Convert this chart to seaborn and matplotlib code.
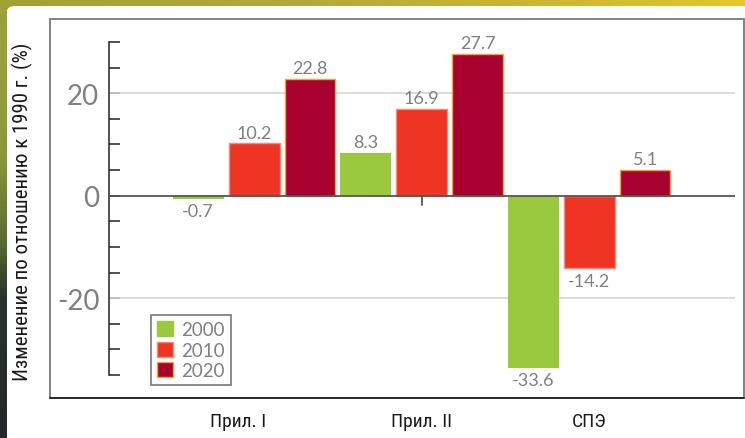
import numpy as np
import pandas as pd
import matplotlib
matplotlib.use("Agg")
import matplotlib.pyplot as plt
from matplotlib.patches import Patch, Rectangle, FancyBboxPatch
from matplotlib.transforms import ScaledTranslation
import seaborn as sns

# ---- data -------------------------------------------------------------
categories = ["Прил. I", "Прил. II", "СПЭ"]
years = ["2000", "2010", "2020"]
values_2000 = [-0.7, 8.3, -33.6]
values_2010 = [10.2, 16.9, -14.2]
values_2020 = [22.8, 27.7, 5.1]
y_label = "Изменение по отношению к 1990 г. (%)"

colors = {"2000": "#9BC93D", "2010": "#EE3524", "2020": "#A8002F"}
edges = {"2000": "none", "2010": "#F48A78", "2020": "#F2A23A"}

df = pd.DataFrame({
    "region": categories * 3,
    "year": [y for y in years for _ in categories],
    "value": values_2000 + values_2010 + values_2020,
})

sns.set_theme(style="white")
plt.rcParams["font.family"] = ["Lato", "DejaVu Sans"]
plt.rcParams["axes.unicode_minus"] = False
narrow = ["Roboto Condensed", "Roboto", "DejaVu Sans"]

W, H = 745, 439
fig = plt.figure(figsize=(W / 100, H / 100), dpi=100)

# ---- photographic border behind the white panel -----------------------
bg_ax = fig.add_axes([0, 0, 1, 1], zorder=-10)
yy = np.linspace(0, 1, H)
xx = np.linspace(0, 1, W)
left_stops = [0.0, 0.35, 0.55, 0.68, 1.0]
left_cols = np.array([[0.62, 0.64, 0.22], [0.55, 0.60, 0.22], [0.36, 0.42, 0.20],
                      [0.16, 0.20, 0.18], [0.14, 0.16, 0.16]])
top_stops = [0.0, 0.4, 0.75, 1.0]
top_cols = np.array([[0.62, 0.64, 0.20], [0.70, 0.66, 0.24], [0.80, 0.72, 0.20], [0.90, 0.78, 0.16]])
img = np.zeros((H, W, 3))
for c in range(3):
    img[:, :, c] = np.interp(yy, left_stops, left_cols[:, c])[:, None]
top_band = np.stack([np.interp(xx, top_stops, top_cols[:, c]) for c in range(3)], axis=-1)
img[:14, :, :] = top_band[None, :, :]
bg_ax.imshow(img, aspect="auto", extent=[0, 1, 0, 1], origin="upper")
bg_ax.axis("off")

panel = FancyBboxPatch((7 / W, -0.1), 1.2, (H - 7) / H + 0.1,
                       boxstyle="round,pad=0,rounding_size=0.012",
                       transform=fig.transFigure, facecolor="white",
                       edgecolor="none", zorder=-5)
fig.patches.append(panel)

frame = Rectangle((50 / W, (H - 399) / H), (744 - 50) / W, (399 - 20) / H,
                  transform=fig.transFigure, facecolor="none",
                  edgecolor="#7a7a7a", lw=1.3, zorder=-4)
fig.patches.append(frame)
fig.add_artist(plt.Line2D([50 / W, 744 / W], [(H - 399) / H] * 2,
                          transform=fig.transFigure, color="#222222", lw=1.3))

# ---- bar chart --------------------------------------------------------
ax = fig.add_axes([109 / W, (H - 376) / H, (735 - 109) / W, (376 - 43) / H])
ax.patch.set_alpha(0)

sns.barplot(data=df, x="region", y="value", hue="year", hue_order=years,
            order=categories, palette=colors, saturation=1, width=1.0,
            gap=0.09, legend=False, ax=ax, zorder=3)

for year, cont in zip(years, ax.containers):
    for bar, val in zip(cont.patches, df.loc[df.year == year, "value"]):
        bar.set_edgecolor(edges[year])
        bar.set_linewidth(1.0 if year != "2000" else 0)
        x = bar.get_x() + bar.get_width() / 2
        if val >= 0:
            ax.annotate(f"{val:.1f}", (x, val), xytext=(0, 2),
                        textcoords="offset points", ha="center", va="bottom",
                        fontsize=13, color="#808080", zorder=5)
        else:
            ax.annotate(f"{val:.1f}", (x, val), xytext=(0, -3),
                        textcoords="offset points", ha="center", va="top",
                        fontsize=13, color="#808080", zorder=5)

ax.set_xlim(-0.866, 2.87)
ax.set_ylim(-35, 30)

ax.axhline(20, color="#d6d6d6", lw=1.2, zorder=1)
ax.axhline(-20, color="#d6d6d6", lw=1.2, zorder=1)
ax.axhline(0, color="#555555", lw=1.3, zorder=4)
ax.plot([1, 1], [0, -1.8], color="#555555", lw=1.3, zorder=4)

ax.set_yticks([-20, 0, 20])
ax.set_yticks(np.arange(-35, 31, 5), minor=True)
ax.tick_params(axis="y", which="both", left=True, direction="in", length=8,
               width=1.1, color="#222222", pad=7)
ax.tick_params(axis="y", which="major", labelsize=20, labelcolor="#808080")
ax.tick_params(axis="x", length=0, pad=27)
ax.set_xticks(range(len(categories)))
ax.set_xticklabels(categories, family=narrow, fontsize=14, color="#1a1a1a")
first = ax.get_xticklabels()[0]
first.set_transform(first.get_transform()
                    + ScaledTranslation(-0.16, 0, fig.dpi_scale_trans))
ax.set_xlabel("")
ax.set_ylabel("")

for side in ("top", "right", "bottom"):
    ax.spines[side].set_visible(False)
ax.spines["left"].set_color("#222222")
ax.spines["left"].set_linewidth(1.1)

fig.text(22 / W, (H - 212) / H, y_label, rotation=90, ha="center", va="center",
         family=narrow, fontsize=15, color="#1a1a1a")

handles = [Patch(facecolor=colors[y], edgecolor=edges[y] if y != "2000" else colors[y],
                 lw=1.0) for y in years]
leg = ax.legend(handles, years, loc="lower left",
                bbox_to_anchor=(151 / W, (H - 386) / H), bbox_transform=fig.transFigure,
                borderaxespad=0, frameon=True, fancybox=False, fontsize=13.5,
                handlelength=0.85, handleheight=0.85, handletextpad=0.45,
                labelspacing=0.17, borderpad=0.33, labelcolor="#808080")
leg.get_frame().set_edgecolor("#555555")
leg.get_frame().set_linewidth(1.2)
leg.set_zorder(6)

fig.savefig("out.png", dpi=100)
